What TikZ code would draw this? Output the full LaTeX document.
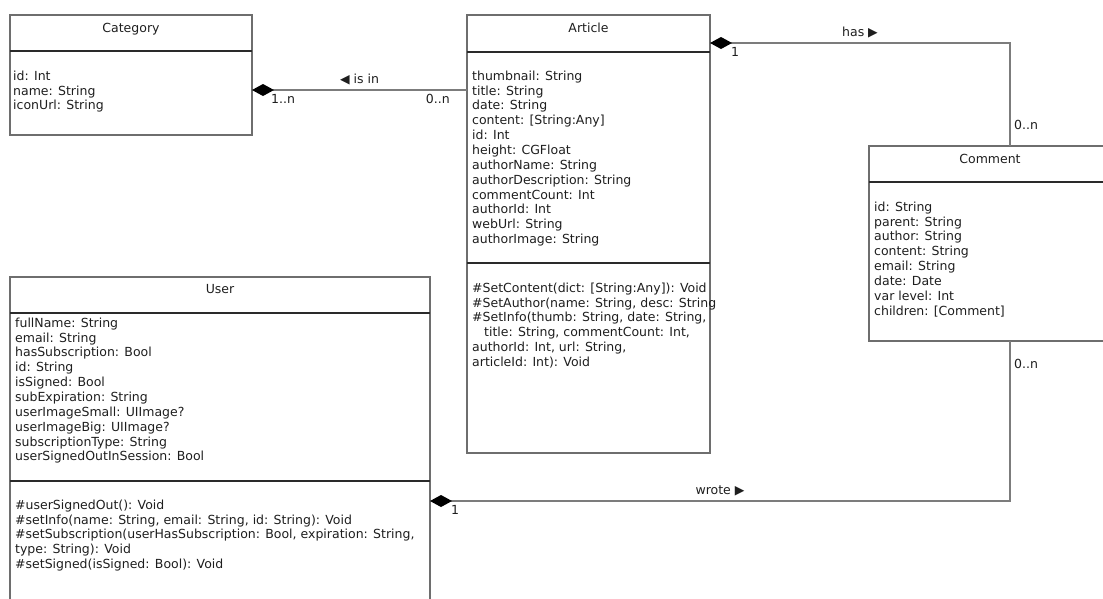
\documentclass[tikz,border=0pt]{standalone}
\usepackage{fontspec}
\setmainfont{DejaVu Sans}
\usepackage{tikz}
\usetikzlibrary{positioning,arrows.meta}
\usepackage{xcolor}

\definecolor{boxline}{HTML}{6E6E6E}
\definecolor{sepline}{HTML}{2A2A2A}
\definecolor{linkline}{HTML}{7C7C7C}
\definecolor{umltext}{HTML}{1E1E1E}
\newcommand{\umlfont}{\fontsize{12.5pt}{14.85pt}\selectfont}

\begin{document}
\begin{tikzpicture}[
  x=1pt, y=-1pt,
  compart/.style={draw=boxline, line width=1.1pt, minimum width=242pt,
                  inner sep=0pt, outer sep=0pt},
  sep/.style={draw=sepline, line width=1.1pt},
  classname/.style={font=\umlfont, text=umltext, anchor=base, inner sep=0pt},
  members/.style={font=\umlfont, text=umltext, align=left,
                  anchor=north west, inner sep=0pt},
  compo/.style={draw=linkline, line width=1.4pt,
                {Diamond[length=22pt,width=12pt,color=black]}-},
  rolelbl/.style={font=\umlfont, text=umltext, inner sep=1.5pt}
]
\useasboundingbox (0,0) rectangle (1103,598);
\clip (0,0) rectangle (1103,598);

% Category
\node[compart, minimum height=36pt, anchor=north west] (catTitle) at (10,15) {};
\node[compart, minimum height=84pt, below=0pt of catTitle] (catAttr) {};
\draw[sep] (catAttr.north west) -- (catAttr.north east);
\node[classname] at ([yshift=-17pt]catTitle.north) {Category};
\node[members] at ([xshift=3pt,yshift=-19.5pt]catAttr.north west)
  {id: Int\\name: String\\iconUrl: String};

% Article
\node[compart, minimum width=243pt, minimum height=37pt, anchor=north west] (artTitle) at (467,15) {};
\node[compart, minimum width=243pt, minimum height=211pt, below=0pt of artTitle] (artAttr) {};
\node[compart, minimum width=243pt, minimum height=190pt, below=0pt of artAttr] (artOps) {};
\draw[sep] (artAttr.north west) -- (artAttr.north east);
\draw[sep] (artOps.north west) -- (artOps.north east);
\node[classname] at ([yshift=-17pt]artTitle.north) {Article};
\node[members] at ([xshift=5pt,yshift=-18.5pt]artAttr.north west)
  {thumbnail: String\\title: String\\date: String\\content: [String:Any]\\id: Int\\
   height: CGFloat\\authorName: String\\authorDescription: String\\commentCount: Int\\
   authorId: Int\\webUrl: String\\authorImage: String};
\node[members] at ([xshift=5pt,yshift=-19.5pt]artOps.north west)
  {\#SetContent(dict: [String:Any]): Void\\\#SetAuthor(name: String, desc: String\\
   \#SetInfo(thumb: String, date: String,\\\hspace*{12pt}title: String, commentCount: Int,\\
   authorId: Int, url: String,\\articleId: Int): Void};

% Comment
\node[compart, minimum height=36pt, anchor=north west] (cmtTitle) at (869,146) {};
\node[compart, minimum height=159pt, below=0pt of cmtTitle] (cmtAttr) {};
\draw[sep] (cmtAttr.north west) -- (cmtAttr.north east);
\node[classname] at ([yshift=-17pt]cmtTitle.north) {Comment};
\node[members] at ([xshift=5pt,yshift=-19.5pt]cmtAttr.north west)
  {id: String\\parent: String\\author: String\\content: String\\email: String\\
   date: Date\\var level: Int\\children: [Comment]};

% User
\node[compart, minimum width=420pt, minimum height=36pt, anchor=north west] (userTitle) at (10,277) {};
\node[compart, minimum width=420pt, minimum height=168pt, below=0pt of userTitle] (userAttr) {};
\node[compart, minimum width=420pt, minimum height=140pt, below=0pt of userAttr] (userOps) {};
\draw[sep] (userAttr.north west) -- (userAttr.north east);
\draw[sep] (userOps.north west) -- (userOps.north east);
\node[classname] at ([yshift=-16pt]userTitle.north) {User};
\node[members] at ([xshift=5pt,yshift=-4.5pt]userAttr.north west)
  {fullName: String\\email: String\\hasSubscription: Bool\\id: String\\isSigned: Bool\\
   subExpiration: String\\userImageSmall: UIImage?\\userImageBig: UIImage?\\
   subscriptionType: String\\userSignedOutInSession: Bool};
\node[members] at ([xshift=5pt,yshift=-18.5pt]userOps.north west)
  {\#userSignedOut(): Void\\\#setInfo(name: String, email: String, id: String): Void\\
   \#setSubscription(userHasSubscription: Bool, expiration: String,\\
   type: String): Void\\\#setSigned(isSigned: Bool): Void};

% Associations
\coordinate (isinA) at ([yshift=3pt]catAttr.east);
\draw[compo] (isinA) -- (isinA -| artAttr.west)
  node[rolelbl, midway, above=2.5pt] {◀ is in}
  node[rolelbl, pos=0, anchor=north west, xshift=17pt, yshift=-2pt] {1..n}
  node[rolelbl, pos=1, anchor=north east, xshift=-15pt, yshift=-2pt] {0..n};

\coordinate (hasA) at ([yshift=9pt]artTitle.south east);
\coordinate (hasB) at ([xshift=20pt]cmtTitle.north);
\draw[compo] (hasA) -| (hasB)
  node[rolelbl, pos=0.25, above=2.5pt] {has ▶}
  node[rolelbl, pos=0, anchor=north west, xshift=19pt, yshift=-2pt] {1}
  node[rolelbl, pos=1, anchor=south west, xshift=2pt, yshift=14pt] {0..n};

\coordinate (wroteA) at ([yshift=-20pt]userOps.north east);
\coordinate (wroteB) at ([xshift=20pt]cmtAttr.south);
\draw[compo] (wroteA) -| (wroteB)
  node[rolelbl, pos=0.25, above=2.5pt] {wrote ▶}
  node[rolelbl, pos=0, anchor=north west, xshift=19pt, yshift=-2pt] {1}
  node[rolelbl, pos=1, anchor=north west, xshift=2pt, yshift=-16pt] {0..n};

\end{tikzpicture}
\end{document}
